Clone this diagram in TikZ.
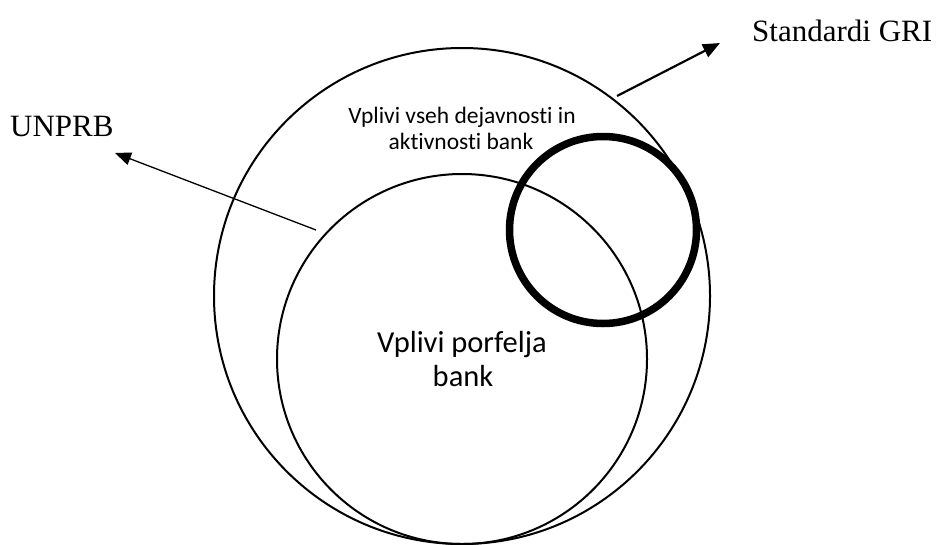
\documentclass[tikz,border=0pt]{standalone}
\usepackage{fontspec}
\setmainfont{Liberation Serif}
\newfontfamily\calfont[Ligatures={NoCommon,NoRare}]{Carlito}
\usetikzlibrary{arrows.meta}
\begin{document}
\begin{tikzpicture}[x={(1pt,0)},y={(0,-1pt)},
  ring/.style={circle,draw,inner sep=0pt,line width=2pt},
  thickring/.style={circle,draw,inner sep=0pt,line width=7.5pt},
  serlabel/.style={inner sep=0pt,anchor=base west,font=\fontsize{31}{36}\selectfont},
  sanslabel/.style={inner sep=0pt,anchor=base,font=\calfont\fontsize{23.5}{26}\selectfont},
  biglabel/.style={inner sep=0pt,anchor=base,font=\calfont\fontsize{30.5}{34}\selectfont},
  pointer/.style={-{Triangle[length=16pt,width=13pt]},line width=1.3pt}
]
\useasboundingbox (0,0) rectangle (941,544);
\node[ring,minimum size=496pt] (outer) at (462,296) {};
\node[ring,minimum size=370pt] (inner) at (462,359) {};
\node[thickring,minimum size=187pt] (gri) at (603,230) {};

\node[sanslabel] (all1) at (462,123) {Vplivi vseh dejavnosti in};
\node[sanslabel] (all2) at (461,149) {aktivnosti bank};
\node[biglabel] (port1) at (462,352) {Vplivi porfelja};
\node[biglabel] (port2) at (463,386) {bank};

\node[serlabel] (unprb) at (10,136) {UNPRB};
\node[serlabel] (std) at (752,41) {Standardi GRI};

\coordinate (t1) at (316,230);
\coordinate (h1) at (115,153);
\coordinate (t2) at (617,96);
\coordinate (h2) at (720,43);
\draw[pointer] (t1) -- (h1);
\draw[pointer,line width=2.2pt,-{Triangle[length=17pt,width=14pt]}] (t2) -- (h2);
\end{tikzpicture}
\end{document}
